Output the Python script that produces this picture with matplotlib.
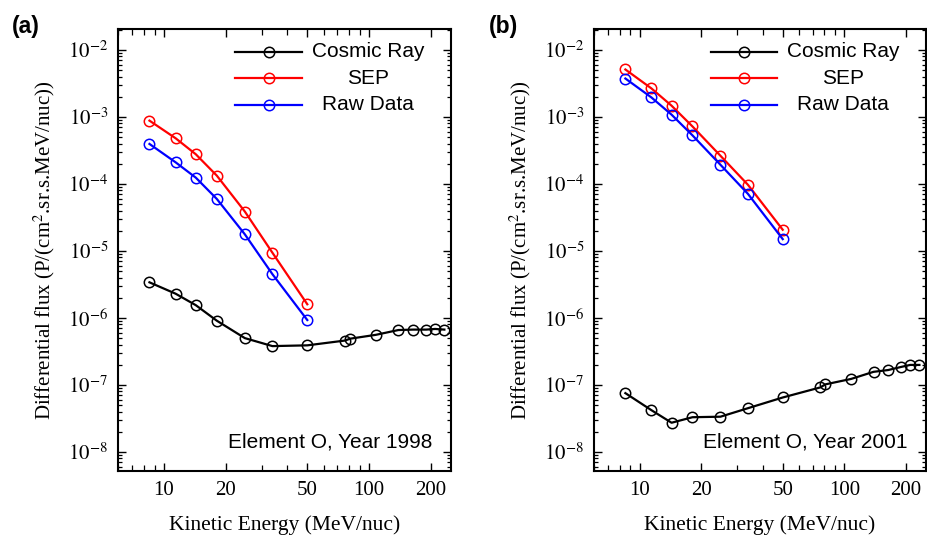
import matplotlib
matplotlib.use('Agg')
import matplotlib.pyplot as plt
import numpy as np
from matplotlib.ticker import FixedLocator, LogLocator, NullFormatter, FixedFormatter

plt.rcParams['font.family'] = ['Liberation Serif', 'DejaVu Serif']
plt.rcParams['mathtext.fontset'] = 'stix'
plt.rcParams['font.size'] = 15

SANS = ['Liberation Sans', 'DejaVu Sans']

# energies (MeV/nuc)
e_sep = [8.5, 11.4, 14.3, 18.1, 24.8, 33.8, 50.0]
e_cr = [8.5, 11.4, 14.3, 18.1, 24.8, 33.8, 50.0, 76.4, 80.8, 108, 139, 164, 190, 210, 233]

# panel (a) 1998
cr_1998 = [3.4e-6, 2.3e-6, 1.55e-6, 9.1e-7, 5.0e-7, 3.8e-7, 3.9e-7,
           4.6e-7, 4.9e-7, 5.6e-7, 6.6e-7, 6.7e-7, 6.7e-7, 6.85e-7, 6.7e-7]
sep_1998 = [8.8e-4, 4.8e-4, 2.77e-4, 1.33e-4, 3.87e-5, 9.4e-6, 1.6e-6]
raw_1998 = [3.95e-4, 2.1e-4, 1.24e-4, 5.97e-5, 1.77e-5, 4.5e-6, 9.3e-7]

# panel (b) 2001
cr_2001 = [7.55e-8, 4.2e-8, 2.73e-8, 3.3e-8, 3.36e-8, 4.5e-8, 6.5e-8,
           9.2e-8, 1.02e-7, 1.23e-7, 1.57e-7, 1.67e-7, 1.86e-7, 1.99e-7, 1.99e-7]
sep_2001 = [5.1e-3, 2.66e-3, 1.47e-3, 7.2e-4, 2.63e-4, 9.7e-5, 2.07e-5]
raw_2001 = [3.74e-3, 1.95e-3, 1.08e-3, 5.3e-4, 1.93e-4, 7.1e-5, 1.5e-5]

series_names = ['Cosmic Ray', 'SEP', 'Raw Data']
series_colors = ['black', '#ff0000', '#0000ff']

x_major = [10, 20, 50, 100, 200]
y_major = [1e-8, 1e-7, 1e-6, 1e-5, 1e-4, 1e-3, 1e-2]

fig = plt.figure(figsize=(9.28, 5.4), dpi=100)
ax_a = fig.add_axes([118 / 928, 69 / 540, 333 / 928, 442 / 540])
ax_b = fig.add_axes([594 / 928, 69 / 540, 332 / 928, 442 / 540])

panels = [
    (ax_a, cr_1998, sep_1998, raw_1998, 'Element O, Year 1998', '(a)'),
    (ax_b, cr_2001, sep_2001, raw_2001, 'Element O, Year 2001', '(b)'),
]

style = dict(marker='o', markersize=7.5, markerfacecolor='none',
             markeredgewidth=1.1, linewidth=1.6)

for ax, cr, sep, raw, note, tag in panels:
    ax.plot(e_cr, cr, color=series_colors[0], **style)
    ax.plot(e_sep, sep, color=series_colors[1], **style)
    ax.plot(e_sep, raw, color=series_colors[2], **style)

    ax.set_xscale('log')
    ax.set_yscale('log')
    ax.set_xlim(5.97, 251)
    ax.set_ylim(5.2e-9, 2.05e-2)

    ax.xaxis.set_major_locator(FixedLocator(x_major))
    ax.xaxis.set_major_formatter(FixedFormatter([str(v) for v in x_major]))
    ax.xaxis.set_minor_locator(LogLocator(base=10, subs=np.arange(2, 10)))
    ax.xaxis.set_minor_formatter(NullFormatter())
    ax.yaxis.set_major_locator(FixedLocator(y_major))
    ax.yaxis.set_major_formatter(FixedFormatter(
        ['$10^{%d}$' % int(round(np.log10(v))) for v in y_major]))
    ax.yaxis.set_minor_locator(LogLocator(base=10, subs=np.arange(2, 10), numticks=20))
    ax.yaxis.set_minor_formatter(NullFormatter())

    ax.tick_params(which='both', direction='in', top=True, right=True)
    ax.tick_params(which='major', length=6, width=1.0, labelsize=15, pad=7)
    ax.tick_params(axis='x', which='minor', length=4, width=0.9)
    ax.tick_params(axis='y', which='minor', length=2.6, width=0.9)
    for sp in ax.spines.values():
        sp.set_linewidth(1.5)

    ax.set_xlabel('Kinetic Energy (MeV/nuc)', fontsize=15.5, labelpad=11)
    ax.set_ylabel('Differential flux (P/(cm$^2$.sr.s.MeV/nuc))', fontsize=15, labelpad=8)

    # legend drawn by hand so the labels can be centred
    rows = [0.9487, 0.8885, 0.8287]
    for name, col, yr in zip(series_names, series_colors, rows):
        ax.plot([0.352, 0.552], [yr, yr], color=col, linewidth=1.6,
                transform=ax.transAxes, clip_on=False)
        ax.plot([0.452], [yr], color=col, marker='o', markersize=7.5,
                markerfacecolor='none', markeredgewidth=1.1,
                transform=ax.transAxes, clip_on=False)
        ax.text(0.75, yr, name, transform=ax.transAxes, ha='center',
                va='center', fontsize=15, family=SANS)

    ax.text(0.945, 0.066, note, transform=ax.transAxes, ha='right',
            va='center', fontsize=15, family=SANS)

fig.text(12 / 928, 1 - 26 / 540, '(a)', ha='left', va='center',
         fontsize=16.5, fontweight='bold', family=SANS)
fig.text(489 / 928, 1 - 26 / 540, '(b)', ha='left', va='center',
         fontsize=16.5, fontweight='bold', family=SANS)

fig.savefig('out.png', dpi=100)
